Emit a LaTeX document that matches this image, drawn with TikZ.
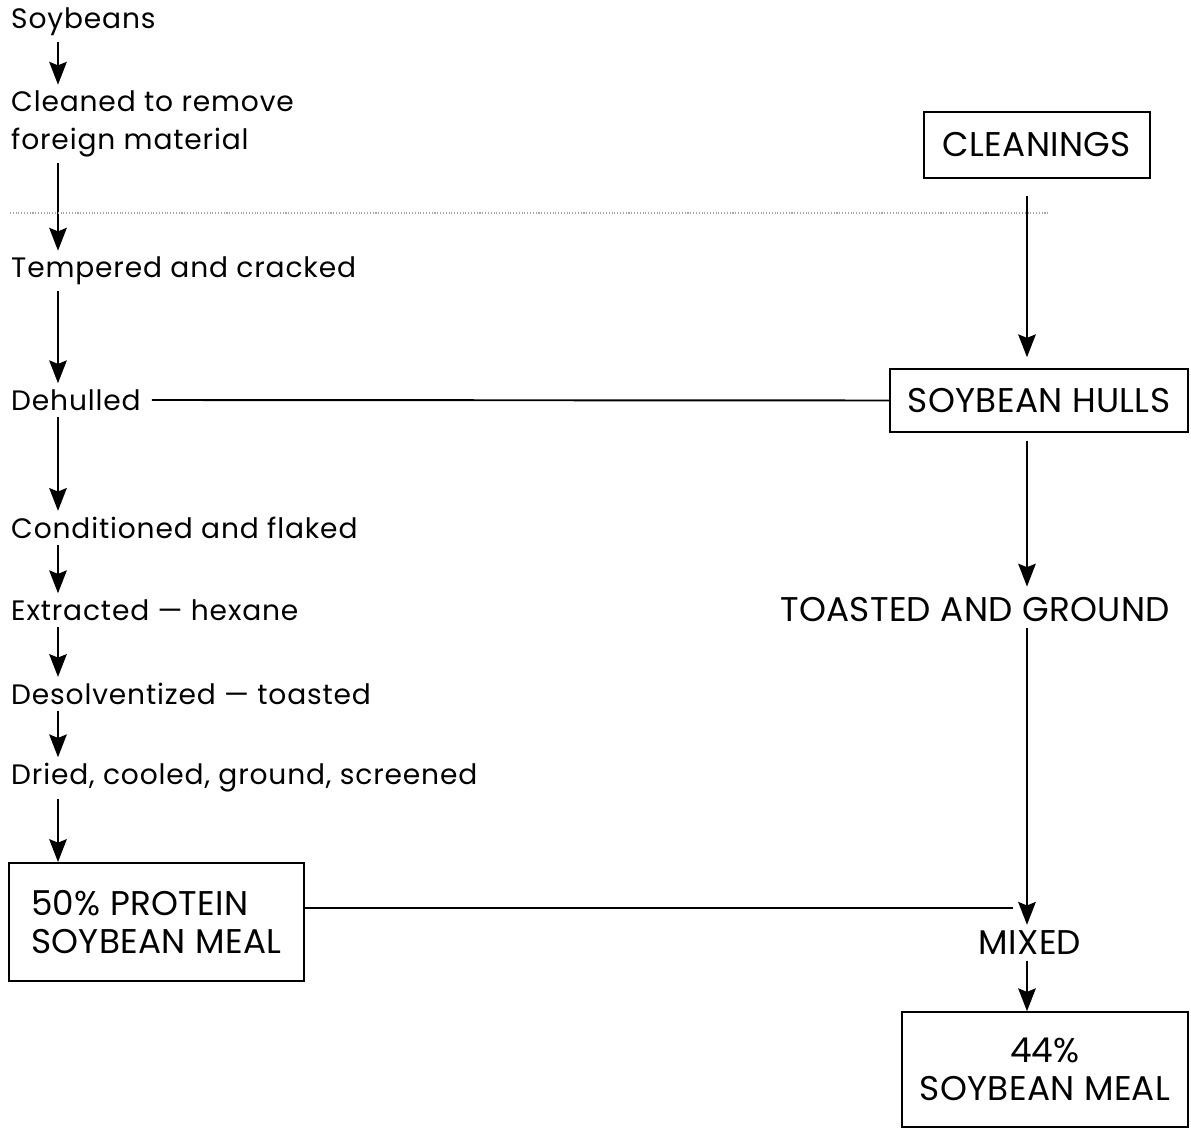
\documentclass[tikz,border=0pt]{standalone}
\usepackage{fontspec}
\setmainfont[LetterSpace=3]{Poppins}
\newfontfamily\capsfont[LetterSpace=1]{Poppins}
\usetikzlibrary{arrows.meta}
\begin{document}
\begin{tikzpicture}[x=0.02cm, y=-0.02cm, font=\fontsize{16}{21.5}\selectfont, line width=1.1pt,
  lbl/.style={inner sep=3pt, align=left},
  caps/.style={font=\fontsize{19.5}{21.5}\selectfont\capsfont},
  boxed/.style={draw, caps, line width=0.9pt, inner sep=0pt, align=center},
  arr/.style={-{Stealth[length=13pt, width=10pt, inset=2pt]}}]
\useasboundingbox (0,0) rectangle (1191,1131);
\coordinate (ax) at (58,0);
\coordinate (rx) at (1027,0);
% left column: processing steps
\foreach \n/\y/\t in {s1/22/Soybeans, s2/124/{Cleaned to remove\\foreign material}, s3/271/Tempered and cracked, s4/400/Dehulled, s5/528/Conditioned and flaked, s6/610/Extracted --- hexane, s7/694/Desolventized --- toasted, s8/778/{Dried, cooled, ground, screened}}
  {\node[lbl, anchor=west] (\n) at (5,\y) {\t};}
\node[boxed, align=left, minimum width=5.9cm, minimum height=2.36cm, anchor=north west] (pm) at (8,862) {50\% PROTEIN\\SOYBEAN MEAL};
\foreach \a/\b in {s1/s2, s2/s3, s3/s4, s4/s5, s5/s6, s6/s7, s7/s8, s8/pm}
  {\draw[arr] (\a.south -| ax) -- (\b.north -| ax);}
% right column: by-products
\node[boxed, minimum width=4.52cm, minimum height=1.32cm] (cl) at (1037,145) {CLEANINGS};
\node[boxed, minimum width=5.96cm, minimum height=1.26cm] (hl) at (1039,400.5) {SOYBEAN HULLS};
\node[lbl, caps] (tg) at (975,610) {TOASTED AND GROUND};
\node[lbl, caps] (mx) at (1030,943) {MIXED};
\node[boxed, minimum width=5.72cm, minimum height=2.3cm] (fm) at (1045,1069.5) {44\%\\SOYBEAN MEAL};
\draw[arr, shorten <=0.34cm, shorten >=0.22cm] (cl.south -| rx) -- (hl.north -| rx);
\draw[arr, shorten <=0.16cm, shorten >=0.1cm] (hl.south -| rx) -- (tg.north -| rx);
\draw[arr] (tg.south -| rx) -- (mx.north -| rx);
\draw[arr] (mx.south -| rx) -- (fm.north -| rx);
% cross lines
\coordinate (mj) at (1013,908);
\draw[shorten <=0.1cm] (s4.east) -- (hl.west);
\draw (pm.east |- mj) -- (mj);
\coordinate (fa) at (10,213);
\coordinate (fb) at (1050,213);
\draw[black!35, densely dotted, line width=0.6pt] (fa) -- (fb);
\end{tikzpicture}
\end{document}
